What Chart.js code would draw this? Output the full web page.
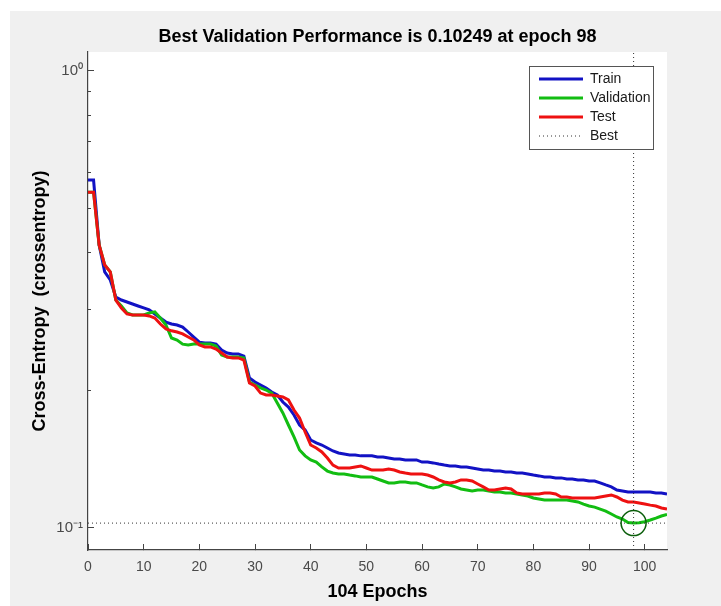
<!DOCTYPE html>
<html>
<head>
<meta charset="utf-8">
<script src="https://cdn.jsdelivr.net/npm/chart.js@4.4.1/dist/chart.umd.min.js"></script>
<style>
  html, body { margin: 0; padding: 0; background: #ffffff; }
  #wrap { width: 721px; height: 606px; }
</style>
</head>
<body>
<div id="wrap"><canvas id="c" width="721" height="606"></canvas></div>
<script>
// ---------------- data ----------------
const train = [
  0.577, 0.577, 0.4162, 0.3633, 0.3488, 0.3201, 0.3153, 0.3122, 0.3091, 0.3060,
  0.3030, 0.3000, 0.2939, 0.2880, 0.2822, 0.2794, 0.2780, 0.2752, 0.2684, 0.2617,
  0.2550, 0.2540, 0.2540, 0.2525, 0.2450, 0.2414, 0.2403, 0.2403, 0.2378, 0.2129,
  0.2087, 0.2055, 0.2025, 0.1984, 0.1954, 0.1886, 0.1839, 0.1767, 0.1680, 0.1638,
  0.1558, 0.1535, 0.1519, 0.1496, 0.1474, 0.1459, 0.1452, 0.1445, 0.1445, 0.1438,
  0.1438, 0.1438, 0.1430, 0.1430, 0.1423, 0.1416, 0.1416, 0.1409, 0.1409, 0.1409,
  0.1394, 0.1394, 0.1388, 0.1380, 0.1373, 0.1367, 0.1367, 0.1360, 0.1360, 0.1353,
  0.1346, 0.1339, 0.1339, 0.1332, 0.1332, 0.1326, 0.1326, 0.1319, 0.1319, 0.1313,
  0.1306, 0.1300, 0.1293, 0.1293, 0.1287, 0.1287, 0.1280, 0.1280, 0.1274, 0.1274,
  0.1267, 0.1267, 0.1255, 0.1242, 0.1230, 0.1211, 0.1205, 0.1199, 0.1199, 0.1199,
  0.1199, 0.1199, 0.1193, 0.1193, 0.1187
];
const validation = [
  0.543, 0.543, 0.4162, 0.3762, 0.3633, 0.3153, 0.3060, 0.2954, 0.2924, 0.2924,
  0.2924, 0.2954, 0.2970, 0.2880, 0.2780, 0.2604, 0.2578, 0.2525, 0.2514, 0.2525,
  0.2525, 0.2525, 0.2525, 0.2500, 0.2390, 0.2366, 0.2366, 0.2366, 0.2355, 0.2087,
  0.2055, 0.2025, 0.2004, 0.1973, 0.1877, 0.1785, 0.1680, 0.1582, 0.1481, 0.1438,
  0.1409, 0.1394, 0.1360, 0.1332, 0.1319, 0.1313, 0.1313, 0.1306, 0.1300, 0.1293,
  0.1293, 0.1293, 0.1280, 0.1267, 0.1255, 0.1255, 0.1261, 0.1261, 0.1255, 0.1255,
  0.1242, 0.1230, 0.1223, 0.1230, 0.1248, 0.1242, 0.1230, 0.1217, 0.1211, 0.1205,
  0.1211, 0.1211, 0.1205, 0.1199, 0.1199, 0.1193, 0.1193, 0.1187, 0.1181, 0.1175,
  0.1163, 0.1157, 0.1151, 0.1151, 0.1151, 0.1151, 0.1151, 0.1146, 0.1140, 0.1128,
  0.1117, 0.1111, 0.1100, 0.1089, 0.1073, 0.1057, 0.1046, 0.1028, 0.10249, 0.1027,
  0.1032, 0.1041, 0.1051, 0.1062, 0.1070
];
const test = [
  0.543, 0.543, 0.4162, 0.3762, 0.3633, 0.3153, 0.3030, 0.2939, 0.2924, 0.2924,
  0.2924, 0.2910, 0.2880, 0.2794, 0.2725, 0.2700, 0.2684, 0.2658, 0.2617, 0.2578,
  0.2514, 0.2490, 0.2490, 0.2463, 0.2414, 0.2366, 0.2355, 0.2355, 0.2330, 0.2076,
  0.2045, 0.1973, 0.1954, 0.1954, 0.1944, 0.1935, 0.1906, 0.1812, 0.1740, 0.1622,
  0.1519, 0.1496, 0.1467, 0.1423, 0.1373, 0.1353, 0.1353, 0.1353, 0.1360, 0.1367,
  0.1353, 0.1339, 0.1339, 0.1339, 0.1346, 0.1339, 0.1326, 0.1319, 0.1313, 0.1313,
  0.1313, 0.1306, 0.1293, 0.1274, 0.1261, 0.1255, 0.1261, 0.1274, 0.1274, 0.1267,
  0.1248, 0.1230, 0.1211, 0.1211, 0.1217, 0.1223, 0.1217, 0.1193, 0.1187, 0.1187,
  0.1187, 0.1187, 0.1193, 0.1193, 0.1187, 0.1169, 0.1169, 0.1163, 0.1163, 0.1163,
  0.1163, 0.1163, 0.1169, 0.1175, 0.1181, 0.1169, 0.1151, 0.1140, 0.1140, 0.1134,
  0.1128, 0.1122, 0.1117, 0.1106, 0.1100
];
const epochs = train.map((_, i) => i);

const bestEpoch = 98;
const bestValue = 0.10249;
const xRange = [0, 104];
const yRange = [0.0895, 1.1];
const xTickValues = [0, 10, 20, 30, 40, 50, 60, 70, 80, 90, 100];
const yTickValues = [0.1, 1];
const yTickLabels = ['10\u207B\u00B9', '10\u2070'];
const yMinorTickValues = [0.2, 0.3, 0.4, 0.5, 0.6, 0.7, 0.8, 0.9];
const seriesNames = ['Train', 'Validation', 'Test', 'Best'];
const titleText = 'Best Validation Performance is 0.10249 at epoch 98';
const xTitle = '104 Epochs';
const yTitle = 'Cross-Entropy  (crossentropy)';

// ---------------- styling ----------------
const FONT = '"Liberation Sans", Arial, Helvetica, sans-serif';
const AXIS = '#444444';
const TICKTXT = '#4a4a4a';
const toXY = arr => arr.map((v, i) => ({ x: epochs[i], y: v }));

const bgPlugin = {
  id: 'matlabBg',
  beforeDraw(chart) {
    const { ctx, chartArea: ca } = chart;
    ctx.save();
    ctx.fillStyle = '#f0f0f0';
    ctx.fillRect(10, 11, chart.width - 10, chart.height - 11);
    ctx.fillStyle = '#ffffff';
    ctx.fillRect(ca.left, ca.top, ca.right - ca.left, ca.bottom - ca.top);
    ctx.restore();
  }
};

const legendBoxPlugin = {
  id: 'legendBox',
  afterLayout(chart) {
    const lg = chart.legend;
    if (!lg) return;
    const ca = chart.chartArea;
    lg.left = ca.right - 133;
    lg.top = ca.top + 15;
    lg.right = ca.right - 14;
    lg.bottom = ca.bottom;
    lg.width = lg.right - lg.left;
    lg.height = lg.bottom - lg.top;
  },
  afterDatasetsDraw(chart) {
    const lg = chart.legend;
    if (!lg) return;
    const { ctx, chartArea: ca } = chart;
    const x0 = ca.right - 138, x1 = ca.right - 14, y0 = ca.top + 14, y1 = ca.top + 97;
    ctx.save();
    ctx.fillStyle = '#ffffff';
    ctx.fillRect(x0, y0, x1 - x0, y1 - y0);
    ctx.strokeStyle = '#555555';
    ctx.lineWidth = 1;
    ctx.strokeRect(x0 + 0.5, y0 + 0.5, x1 - x0, y1 - y0);
    ctx.restore();
    lg.draw();
  }
};

const dotted = { borderColor: '#333333', borderWidth: 1, borderDash: [1, 3], pointRadius: 0 };

const chart = new Chart(document.getElementById('c'), {
  type: 'line',
  data: {
    datasets: [
      { label: seriesNames[0], data: toXY(train), borderColor: '#1212c4', borderWidth: 3, pointRadius: 0, tension: 0, order: 5 },
      { label: seriesNames[1], data: toXY(validation), borderColor: '#12bd12', borderWidth: 3, pointRadius: 0, tension: 0, order: 4 },
      { label: seriesNames[2], data: toXY(test), borderColor: '#ee1111', borderWidth: 3, pointRadius: 0, tension: 0, order: 3 },
      Object.assign({ label: seriesNames[3], data: [{ x: xRange[0], y: bestValue }, { x: xRange[1], y: bestValue }], order: 2 }, dotted),
      Object.assign({ label: '', data: [{ x: bestEpoch, y: yRange[0] }, { x: bestEpoch, y: yRange[1] }], order: 2 }, dotted),
      { label: '', data: [{ x: bestEpoch, y: bestValue }], showLine: false, pointRadius: 12.5, pointBorderWidth: 1.5,
        pointBorderColor: '#0b5e0b', pointBackgroundColor: 'rgba(0,0,0,0)', order: 1 }
    ]
  },
  options: {
    responsive: false,
    animation: false,
    events: [],
    layout: { padding: { left: 0, right: 54, top: 0, bottom: 0 } },
    plugins: {
      tooltip: { enabled: false },
      title: {
        display: true, text: titleText, color: '#000000', fullSize: false,
        font: { family: FONT, size: 18, weight: 'bold' },
        padding: { top: 26, bottom: 4.4 }
      },
      legend: {
        position: 'chartArea',
        align: 'start',
        labels: {
          usePointStyle: true, pointStyle: 'line', pointStyleWidth: 44,
          font: { family: FONT, size: 14 }, color: '#1a1a1a', padding: 5,
          generateLabels(ch) {
            const items = Chart.defaults.plugins.legend.labels.generateLabels(ch);
            items.forEach(it => {
              const ds = ch.data.datasets[it.datasetIndex];
              it.strokeStyle = ds.borderColor;
              it.lineWidth = ds.borderWidth;
              it.lineDash = ds.borderDash || [];
              it.pointStyle = 'line';
            });
            return items;
          },
          filter: it => it.datasetIndex < 4,
          sort: (a, b) => a.datasetIndex - b.datasetIndex
        }
      }
    },
    scales: {
      x: {
        type: 'linear', min: xRange[0], max: xRange[1],
        afterBuildTicks: s => { s.ticks = xTickValues.map(v => ({ value: v })); },
        afterFit: s => { s.height = 56; },
        ticks: { autoSkip: false, maxRotation: 0, padding: 15, color: TICKTXT, font: { family: FONT, size: 14 } },
        grid: { drawOnChartArea: false, drawTicks: true, tickLength: -6, tickColor: AXIS, tickWidth: 1 },
        border: { display: true, color: AXIS, width: 1.2 },
        title: { display: true, text: xTitle, color: '#000000', font: { family: FONT, size: 18, weight: 'bold' }, padding: { top: 0, bottom: 3.2 } }
      },
      y: {
        type: 'logarithmic', position: 'left', weight: 1, min: yRange[0], max: yRange[1],
        afterBuildTicks: s => { s.ticks = yTickValues.map(v => ({ value: v })); },
        afterFit: s => { s.width = 88; },
        ticks: {
          autoSkip: false, padding: 11, color: TICKTXT, font: { family: FONT, size: 15 },
          callback: v => { const i = yTickValues.findIndex(t => Math.abs(t - v) < 1e-9); return i >= 0 ? yTickLabels[i] : ''; }
        },
        grid: { drawOnChartArea: false, drawTicks: true, tickLength: -6, tickColor: AXIS, tickWidth: 1 },
        border: { display: true, color: AXIS, width: 1.2 },
        title: { display: true, text: yTitle, color: '#000000', font: { family: FONT, size: 18, weight: 'bold' }, padding: { top: 29.2, bottom: 0 } }
      },
      yMinor: {
        type: 'logarithmic', position: 'left', weight: 0, min: yRange[0], max: yRange[1],
        afterBuildTicks: s => { s.ticks = yMinorTickValues.map(v => ({ value: v })); },
        afterFit: s => { s.width = 0; },
        ticks: { display: false, autoSkip: false },
        grid: { drawOnChartArea: false, drawTicks: true, tickLength: -3, tickColor: AXIS, tickWidth: 1 },
        border: { display: false }
      }
    }
  },
  plugins: [bgPlugin, legendBoxPlugin]
});
</script>
</body>
</html>
